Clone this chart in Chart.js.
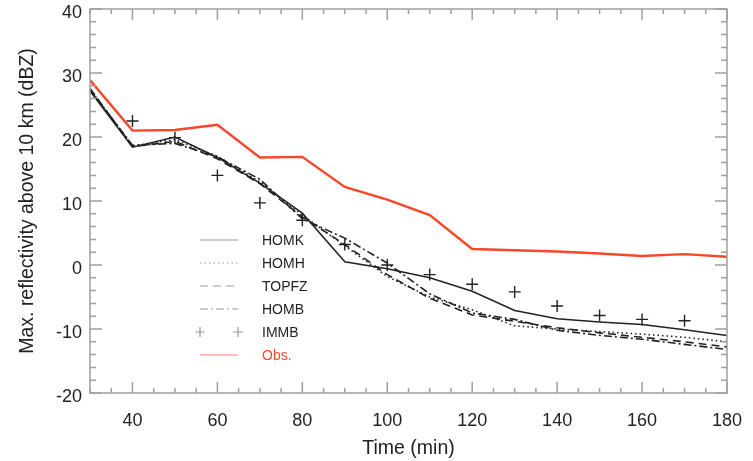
<!DOCTYPE html>
<html>
<head>
<meta charset="utf-8">
<script src="https://cdn.jsdelivr.net/npm/chart.js@4"></script>
<style>
  html, body { margin: 0; padding: 0; background: #fff; }
  #wrap { width: 753px; height: 461px; }
</style>
</head>
<body>
<div id="wrap"><canvas id="reflChart" width="753" height="461"></canvas></div>
<script>
// Time axis (min)
const times = [30, 40, 50, 60, 70, 80, 90, 100, 110, 120, 130, 140, 150, 160, 170, 180];

// Max. reflectivity above 10 km (dBZ) per run
const homk  = [27.2, 18.4, 20.0, 16.8, 12.8, 8.1, 0.5, -0.6, -2.0, -4.1, -7.1, -8.4, -8.9, -9.3, -10.1, -11.0];
const homh  = [27.5, 18.6, 19.6, 17.0, 13.0, 7.8, 3.0, -1.8, -5.0, -7.0, -9.5, -10.0, -10.4, -10.8, -11.3, -12.0];
const topfz = [27.6, 18.5, 19.3, 16.6, 12.7, 7.5, 3.2, -1.5, -5.2, -7.8, -8.8, -9.8, -10.6, -11.3, -12.0, -12.8];
const homb  = [27.4, 18.7, 19.0, 16.9, 13.4, 7.2, 4.2, 0.3, -4.5, -7.5, -8.5, -10.2, -11.0, -11.6, -12.4, -13.2];
const immb  = [null, 22.5, 19.9, 14.0, 9.7, 7.0, 3.2, 0.0, -1.5, -3.0, -4.2, -6.4, -7.9, -8.5, -8.7, null];
const obs   = [28.9, 21.0, 21.1, 21.9, 16.8, 16.9, 12.2, 10.2, 7.8, 2.5, 2.3, 2.1, 1.8, 1.4, 1.7, 1.3];

// Axis ticks
const xTickLabels = [40, 60, 80, 100, 120, 140, 160, 180];
const yTickLabels = [-20, -10, 0, 10, 20, 30, 40];

const FONT = '"Liberation Sans", Arial, Helvetica, sans-serif';
const RED = 'rgb(248, 70, 40)';

function toPoints(values) {
  return times.map((t, i) => ({ x: t, y: values[i] }));
}

// Frame with inward major/minor ticks on all four sides
const framePlugin = {
  id: 'frame',
  afterDatasetsDraw(chart) {
    const { ctx, chartArea: a, scales } = chart;
    const xs = scales.x, ys = scales.y;
    ctx.save();
    ctx.strokeStyle = '#a0a0a0';
    ctx.lineWidth = 1.5;
    ctx.strokeRect(a.left, a.top, a.right - a.left, a.bottom - a.top);
    ctx.beginPath();
    for (let v = 30; v <= 180; v += 5) {
      const px = xs.getPixelForValue(v);
      const len = v % 20 === 0 ? 11 : 5;
      ctx.moveTo(px, a.bottom); ctx.lineTo(px, a.bottom - len);
      ctx.moveTo(px, a.top); ctx.lineTo(px, a.top + len);
    }
    for (let v = -20; v <= 40; v += 2) {
      const py = ys.getPixelForValue(v);
      const len = v % 10 === 0 ? 12 : 6;
      ctx.moveTo(a.left, py); ctx.lineTo(a.left + len, py);
      ctx.moveTo(a.right, py); ctx.lineTo(a.right - len, py);
    }
    ctx.stroke();
    ctx.restore();
  }
};

// Legend drawn inside the plot, IDL style
const legendPlugin = {
  id: 'inlineLegend',
  afterDatasetsDraw(chart) {
    const { ctx } = chart;
    const x0 = 200, x1 = 238, tx = 262, y0 = 240, dy = 23;
    ctx.save();
    ctx.font = '14px ' + FONT;
    ctx.textBaseline = 'middle';
    chart.data.datasets.forEach((ds, i) => {
      const y = y0 + i * dy;
      ctx.strokeStyle = ds.label === 'Obs.' ? 'rgba(248,70,40,0.7)' : '#999';
      ctx.lineWidth = 1.2;
      ctx.setLineDash(ds.borderDash || []);
      ctx.beginPath();
      if (ds.label === 'IMMB') {
        [x0, x1].forEach(cx => {
          ctx.moveTo(cx - 5, y); ctx.lineTo(cx + 5, y);
          ctx.moveTo(cx, y - 5); ctx.lineTo(cx, y + 5);
        });
      } else {
        ctx.moveTo(x0, y); ctx.lineTo(x1, y);
      }
      ctx.stroke();
      ctx.setLineDash([]);
      ctx.fillStyle = ds.label === 'Obs.' ? RED : '#222';
      ctx.fillText(ds.label, tx, y + 1);
    });
    ctx.restore();
  }
};

function lineSet(label, values, dash, color, width) {
  return {
    label: label,
    data: toPoints(values),
    borderColor: color,
    backgroundColor: color,
    borderWidth: width,
    borderDash: dash,
    pointRadius: 0,
    tension: 0,
    fill: false
  };
}

new Chart(document.getElementById('reflChart'), {
  type: 'line',
  data: {
    datasets: [
      lineSet('HOMK', homk, [], '#222', 1.5),
      lineSet('HOMH', homh, [1.5, 3], '#222', 1.6),
      lineSet('TOPFZ', topfz, [8, 5], '#222', 1.6),
      lineSet('HOMB', homb, [8, 3, 2, 3], '#222', 1.6),
      {
        label: 'IMMB',
        data: toPoints(immb),
        showLine: false,
        borderColor: '#222',
        backgroundColor: '#222',
        borderWidth: 1.4,
        pointStyle: 'cross',
        pointRadius: 6,
        spanGaps: false
      },
      lineSet('Obs.', obs, [], RED, 2.4)
    ]
  },
  options: {
    responsive: false,
    animation: false,
    devicePixelRatio: 1,
    layout: { padding: { left: 0, top: 9, right: 26, bottom: 0 } },
    plugins: {
      legend: { display: false },
      tooltip: { enabled: false }
    },
    scales: {
      x: {
        type: 'linear',
        min: 30,
        max: 180,
        grid: { display: false, drawTicks: false },
        border: { display: false },
        afterBuildTicks(scale) {
          scale.ticks = xTickLabels.map(v => ({ value: v }));
        },
        afterFit(scale) {
          scale.height = 68;
          scale.paddingLeft = 0;
          scale.paddingRight = 0;
        },
        ticks: {
          padding: 17,
          color: '#222',
          font: { family: FONT, size: 18 },
          maxRotation: 0
        },
        title: {
          display: true,
          text: 'Time (min)',
          color: '#222',
          font: { family: FONT, size: 19.5 },
          padding: { top: 0, bottom: 1 }
        }
      },
      y: {
        min: -20,
        max: 40,
        grid: { display: false, drawTicks: false },
        border: { display: false },
        afterBuildTicks(scale) {
          scale.ticks = yTickLabels.map(v => ({ value: v }));
        },
        afterFit(scale) {
          scale.width = 90;
          scale.paddingTop = 0;
          scale.paddingBottom = 0;
        },
        ticks: {
          padding: 8,
          labelOffset: 4,
          color: '#222',
          font: { family: FONT, size: 18 }
        },
        title: {
          display: true,
          text: 'Max. reflectivity above 10 km (dBZ)',
          color: '#222',
          font: { family: FONT, size: 19.5 },
          padding: { top: 16, bottom: 0 }
        }
      }
    }
  },
  plugins: [framePlugin, legendPlugin]
});
</script>
</body>
</html>
